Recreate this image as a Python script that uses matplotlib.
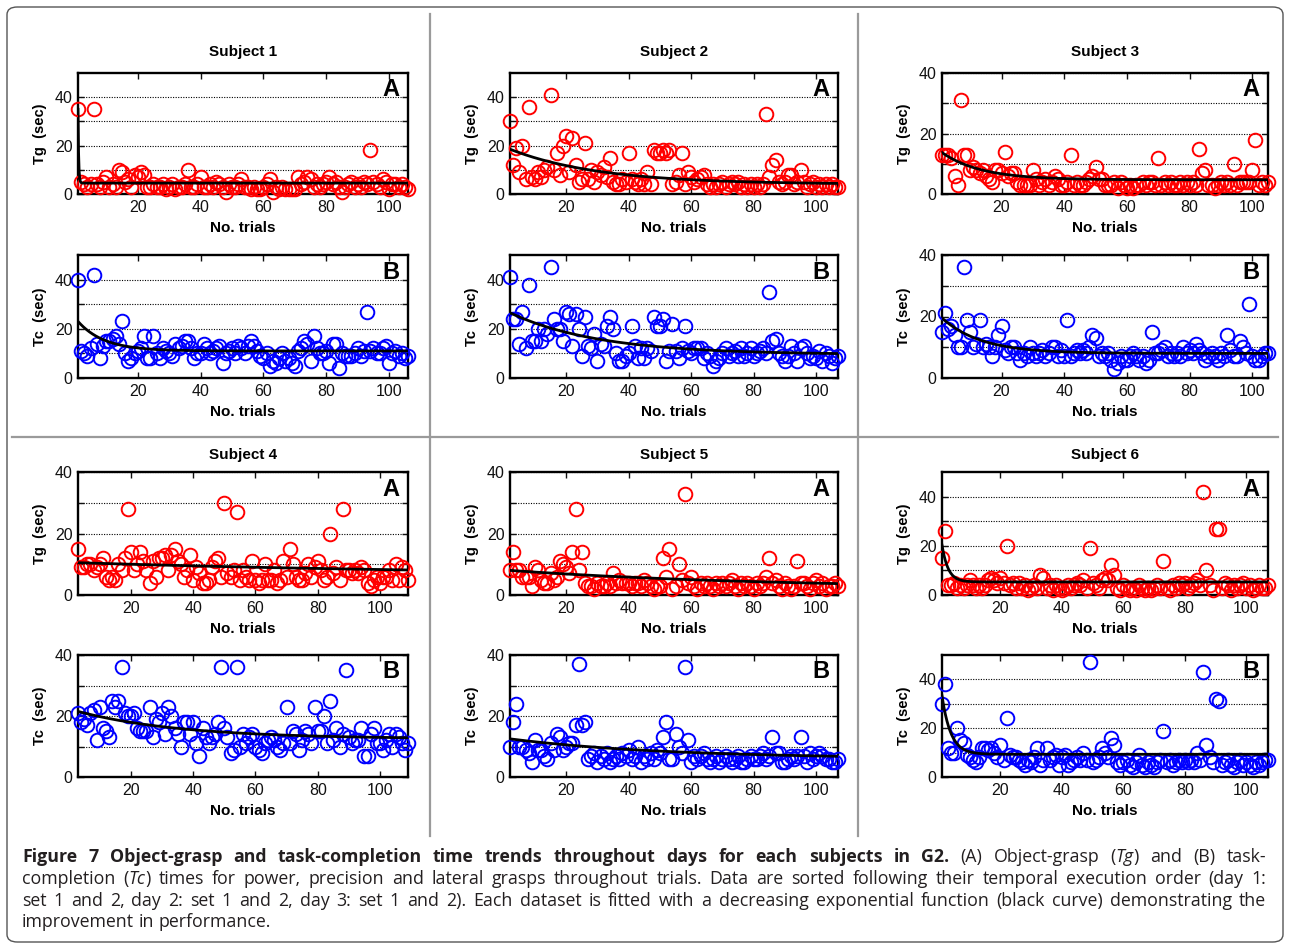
import numpy as np
import matplotlib
matplotlib.use('Agg')
import matplotlib.pyplot as plt
from matplotlib.lines import Line2D
from matplotlib.patches import FancyBboxPatch

W, H = 1290, 949

# first trial number of each subject (trials are consecutive)
trial_start = [1, 2, 1, 3, 2, 1]

# object-grasp times Tg (sec), one list per subject
tg_s1 = [35, 5, 4, 3, 4, 35, 4, 3, 5, 7,
         3, 4, 3, 10, 9, 5, 6, 3, 8, 7,
         9, 8, 3, 3, 4, 3, 3, 4, 2, 3,
         4, 2, 3, 3, 4, 10, 3, 3, 4, 7,
         3, 3, 4, 3, 5, 4, 3, 1, 4, 3,
         3, 4, 6, 3, 3, 2, 3, 2, 2, 3,
         4, 6, 1, 3, 2, 3, 2, 2, 2, 2,
         7, 4, 5, 7, 6, 3, 4, 3, 4, 5,
         7, 4, 5, 3, 1, 3, 4, 5, 3, 4,
         3, 5, 4, 18, 5, 4, 3, 6, 5, 2,
         4, 4, 3, 4, 3, 2]
tg_s2 = [30, 12, 19, 9, 20, 6, 36, 7, 6, 9,
         7, 10, 11, 41, 10, 17, 8, 20, 24, 9,
         23, 12, 5, 6, 21, 6, 10, 5, 9, 8,
         11, 7, 15, 5, 4, 4, 6, 5, 17, 6,
         5, 4, 6, 4, 9, 4, 18, 17, 17, 18,
         17, 18, 4, 5, 8, 17, 4, 9, 7, 5,
         6, 7, 8, 4, 3, 4, 3, 4, 5, 3,
         4, 5, 4, 5, 3, 4, 3, 4, 3, 4,
         3, 4, 33, 7, 12, 14, 5, 4, 5, 8,
         8, 4, 5, 10, 5, 3, 4, 5, 3, 4,
         3, 4, 3, 4, 3, 3]
tg_s3 = [13, 13, 13, 12, 6, 3, 31, 13, 13, 8,
         9, 8, 7, 8, 6, 5, 4, 8, 8, 7,
         14, 6, 7, 7, 4, 3, 3, 3, 3, 8,
         5, 3, 4, 5, 3, 4, 6, 5, 3, 3,
         4, 13, 3, 4, 3, 3, 4, 5, 6, 9,
         5, 5, 3, 3, 3, 4, 2, 4, 3, 2,
         3, 2, 3, 3, 4, 3, 4, 4, 3, 12,
         3, 4, 3, 4, 3, 3, 4, 3, 4, 3,
         4, 3, 15, 7, 8, 3, 3, 2, 3, 4,
         3, 4, 3, 10, 3, 4, 4, 4, 4, 8,
         18, 3, 4, 3, 4]
tg_s4 = [15, 9, 9, 10, 10, 8, 9, 10, 12, 6,
         5, 6, 5, 10, 8, 12, 28, 14, 8, 10,
         14, 11, 8, 4, 11, 6, 12, 12, 13, 8,
         13, 15, 11, 10, 6, 8, 13, 5, 9, 7,
         4, 4, 5, 9, 11, 12, 6, 30, 7, 6,
         8, 27, 5, 8, 6, 5, 11, 5, 4, 5,
         10, 5, 5, 8, 4, 5, 11, 6, 15, 10,
         6, 5, 5, 7, 10, 6, 9, 11, 8, 5,
         6, 20, 7, 9, 5, 28, 8, 8, 7, 8,
         7, 9, 8, 4, 3, 5, 6, 4, 6, 6,
         8, 5, 10, 5, 9, 8, 5]
tg_s5 = [8, 14, 8, 8, 6, 6, 6, 3, 9, 8,
         5, 4, 4, 7, 5, 6, 11, 10, 9, 7,
         14, 28, 8, 14, 4, 3, 3, 2, 4, 3,
         3, 4, 3, 7, 4, 5, 4, 4, 4, 3,
         4, 4, 3, 5, 4, 3, 2, 3, 3, 12,
         6, 15, 2, 3, 10, 5, 33, 4, 6, 3,
         2, 4, 3, 4, 3, 2, 4, 3, 4, 3,
         4, 5, 3, 2, 4, 3, 4, 3, 2, 4,
         3, 4, 6, 12, 4, 5, 3, 2, 4, 3,
         2, 3, 11, 4, 4, 3, 2, 4, 5, 3,
         4, 2, 3, 3, 4, 3]
tg_s6 = [15, 26, 4, 4, 5, 3, 4, 3, 4, 6,
         4, 3, 4, 3, 4, 6, 7, 6, 5, 7,
         5, 20, 4, 5, 3, 5, 3, 4, 2, 3,
         4, 3, 8, 7, 3, 4, 2, 4, 3, 2,
         3, 4, 3, 4, 5, 4, 6, 3, 19, 5,
         4, 3, 6, 7, 6, 12, 8, 3, 2, 4,
         3, 2, 3, 2, 4, 3, 2, 3, 2, 3,
         4, 3, 14, 3, 2, 4, 3, 5, 4, 5,
         3, 4, 5, 6, 4, 42, 10, 4, 2, 27,
         27, 3, 5, 4, 2, 4, 3, 4, 5, 3,
         4, 2, 3, 4, 3, 3, 4]

# task-completion times Tc (sec)
tc_s1 = [40, 11, 10, 9, 12, 42, 14, 8, 13, 15,
         15, 16, 17, 14, 23, 10, 7, 8, 10, 11,
         12, 17, 8, 8, 17, 10, 8, 12, 11, 10,
         9, 14, 12, 13, 15, 15, 12, 8, 10, 10,
         14, 12, 10, 11, 12, 13, 6, 10, 11, 12,
         10, 13, 12, 10, 13, 15, 13, 11, 9, 8,
         10, 5, 7, 6, 8, 10, 7, 8, 6, 5,
         11, 12, 15, 14, 7, 17, 12, 10, 10, 11,
         6, 14, 14, 4, 10, 9, 9, 9, 10, 12,
         9, 11, 27, 11, 12, 10, 10, 12, 13, 6,
         10, 11, 9, 10, 8, 9]
tc_s2 = [41, 24, 24, 14, 27, 12, 38, 15, 15, 20,
         15, 20, 18, 45, 24, 20, 20, 15, 27, 26,
         13, 26, 20, 9, 25, 13, 12, 18, 7, 14,
         13, 21, 25, 20, 10, 7, 7, 9, 10, 21,
         13, 8, 12, 8, 12, 11, 25, 21, 21, 24,
         7, 11, 22, 11, 8, 12, 21, 11, 10, 12,
         12, 12, 8, 10, 9, 5, 7, 8, 10, 12,
         9, 10, 11, 9, 12, 9, 10, 12, 9, 10,
         11, 12, 10, 35, 15, 16, 10, 9, 7, 9,
         13, 10, 7, 12, 13, 10, 8, 9, 8, 11,
         7, 10, 9, 6, 8, 9]
tc_s3 = [15, 21, 16, 17, 14, 10, 10, 36, 19, 15,
         10, 11, 19, 10, 11, 10, 7, 10, 14, 17,
         9, 8, 10, 10, 8, 6, 8, 7, 10, 8,
         7, 8, 9, 7, 8, 10, 10, 7, 9, 7,
         19, 7, 8, 9, 8, 9, 8, 10, 14, 13,
         7, 8, 7, 8, 6, 3, 5, 7, 6, 6,
         7, 8, 7, 6, 7, 5, 6, 15, 8, 8,
         9, 10, 7, 8, 7, 8, 7, 10, 8, 9,
         8, 11, 9, 8, 6, 7, 8, 7, 6, 8,
         7, 14, 9, 7, 7, 12, 10, 8, 24, 7,
         6, 6, 7, 8, 8]
tc_s4 = [21, 18, 19, 17, 21, 22, 12, 23, 16, 15,
         13, 25, 23, 25, 36, 21, 20, 20, 21, 16,
         15, 15, 15, 23, 13, 19, 18, 21, 14, 23,
         20, 16, 14, 10, 18, 18, 14, 18, 11, 7,
         16, 13, 11, 13, 14, 18, 36, 16, 13, 8,
         9, 36, 10, 14, 11, 13, 14, 10, 9, 8,
         11, 12, 13, 12, 10, 9, 11, 23, 11, 15,
         14, 9, 12, 15, 14, 11, 23, 15, 15, 20,
         11, 25, 12, 16, 10, 14, 35, 13, 11, 12,
         12, 16, 7, 7, 14, 16, 11, 11, 9, 12,
         14, 10, 14, 13, 11, 9, 11]
tc_s5 = [10, 18, 24, 10, 10, 9, 8, 5, 12, 9,
         9, 7, 6, 11, 9, 14, 13, 9, 10, 11,
         11, 17, 37, 17, 18, 6, 7, 8, 5, 7,
         6, 8, 5, 6, 7, 6, 8, 7, 9, 6,
         7, 10, 5, 7, 6, 8, 6, 9, 8, 13,
         18, 6, 6, 14, 10, 8, 36, 12, 5, 7,
         6, 7, 8, 6, 5, 6, 7, 5, 6, 7,
         6, 5, 6, 7, 5, 5, 6, 7, 6, 6,
         7, 8, 6, 7, 13, 8, 8, 5, 5, 6,
         7, 6, 7, 13, 7, 5, 8, 6, 7, 8,
         7, 6, 6, 5, 5, 6]
tc_s6 = [30, 38, 12, 10, 10, 20, 15, 14, 9, 8,
         7, 6, 8, 12, 12, 11, 12, 10, 8, 13,
         7, 24, 9, 8, 8, 7, 6, 5, 7, 6,
         8, 12, 5, 7, 12, 7, 8, 9, 5, 8,
         9, 5, 6, 7, 8, 7, 10, 7, 47, 6,
         7, 8, 12, 10, 8, 16, 13, 6, 5, 6,
         7, 5, 4, 6, 9, 5, 4, 6, 5, 4,
         6, 7, 19, 6, 7, 5, 6, 7, 6, 7,
         6, 7, 6, 10, 7, 43, 13, 8, 6, 32,
         31, 5, 6, 7, 5, 4, 6, 7, 5, 6,
         5, 4, 6, 5, 6, 7, 7]

# decreasing exponential fits: (plateau, amplitude, rate)
tg_fit = [(4.5, 30.5, 5.0), (4.0, 14.5, 0.035), (4.7, 9.0, 0.08),
          (6.0, 4.5, 0.007), (2.0, 6.0, 0.012), (5.3, 15.0, 0.5)]
tc_fit = [(11.0, 12.0, 0.12), (9.5, 17.0, 0.035), (8.0, 11.5, 0.08),
          (12.5, 9.0, 0.03), (6.0, 6.5, 0.02), (9.3, 24.0, 0.35)]

tg_ymax = [50, 50, 40, 40, 40, 50]
tc_ymax = [50, 50, 40, 40, 40, 50]

tg_all = [tg_s1, tg_s2, tg_s3, tg_s4, tg_s5, tg_s6]
tc_all = [tc_s1, tc_s2, tc_s3, tc_s4, tc_s5, tc_s6]
subjects = ['Subject %d' % (i + 1) for i in range(6)]

axis_font = 'Liberation Sans'
plt.rcParams['font.family'] = [axis_font, 'DejaVu Sans']

fig = plt.figure(figsize=(W / 100, H / 100), dpi=100)


def add_axes_px(left, top, right, bottom):
    return fig.add_axes([left / W, 1 - bottom / H, (right - left) / W, (bottom - top) / H])


def draw_panel(ax, y, start, color, fit, ymax, letter, ylabel):
    x = np.arange(start, start + len(y))
    xs = np.linspace(x[0], x[-1], 600)
    c, a, b = fit
    ax.plot(x, y, 'o', ls='none', mfc='none', mec=color, ms=9.8, mew=1.4,
            clip_on=False, zorder=3)
    ax.plot(xs, c + a * np.exp(-b * (xs - x[0])), color='black', lw=2.0, zorder=4)
    ax.set_xlim(x[0], x[-1])
    ax.set_ylim(0, ymax)
    ax.set_xticks([20, 40, 60, 80, 100])
    ax.set_yticks([0, 10, 20, 30, 40])
    ax.set_yticklabels(['0', '', '20', '', '40'])
    ax.yaxis.grid(True, linestyle=(0, (1, 1.3)), color='black', lw=0.8)
    ax.set_axisbelow(True)
    ax.tick_params(direction='in', top=True, right=True, length=4, width=1,
                   labelsize=11.5, pad=4, colors='#111111')
    for s in ax.spines.values():
        s.set_linewidth(1.7)
    ax.text(0.975, 0.955, letter, transform=ax.transAxes, ha='right', va='top',
            fontsize=17, fontweight='bold')
    ax.set_xlabel('No. trials', fontsize=11, fontweight='bold')
    ax.xaxis.set_label_coords(0.5, -0.22)
    ax.set_ylabel(ylabel, fontsize=10.5, fontweight='bold')
    ax.yaxis.set_label_coords(-0.095, 0.5)


col_x = [(78, 408), (510, 838), (942, 1268)]
row_a = [(73, 194), (472, 595)]
row_b = [(255, 378), (655, 777)]
title_y = [52, 455]

for i in range(6):
    col, row = i % 3, i // 3
    l, r = col_x[col]
    axa = add_axes_px(l, row_a[row][0], r, row_a[row][1])
    draw_panel(axa, tg_all[i], trial_start[i], 'red', tg_fit[i], tg_ymax[i], 'A', 'Tg  (sec)')
    axb = add_axes_px(l, row_b[row][0], r, row_b[row][1])
    draw_panel(axb, tc_all[i], trial_start[i], 'blue', tc_fit[i], tc_ymax[i], 'B', 'Tc  (sec)')
    fig.text((l + r) / 2 / W, 1 - title_y[row] / H, subjects[i], ha='center', va='center',
             fontsize=11, fontweight='bold')

# separators between subjects
sep = '#9a9a9a'
for xv in (430, 858):
    fig.add_artist(Line2D([xv / W, xv / W], [1 - 14 / H, 1 - 836 / H], color=sep, lw=1.6))
fig.add_artist(Line2D([12 / W, 1278 / W], [1 - 437 / H, 1 - 437 / H], color=sep, lw=1.6))

# outer frame
fig.add_artist(FancyBboxPatch((7 / W, 1 - 942 / H), 1276 / W, 935 / H,
                              boxstyle='round,pad=0,rounding_size=0.008',
                              transform=fig.transFigure, fill=False,
                              ec='#555555', lw=1.0))

# caption, justified word by word
cap_font = ['Open Sans', 'DejaVu Sans']
cap_size = 12.8
cap_color = '#231f20'
caption = [
    [('Figure 7 Object-grasp and task-completion time trends throughout days for each subjects in G2.', 'bold'),
     ('(A) Object-grasp (_Tg_) and (B) task-', 'normal')],
    [('completion (_Tc_) times for power, precision and lateral grasps throughout trials. '
      'Data are sorted following their temporal execution order (day 1:', 'normal')],
    [('set 1 and 2, day 2: set 1 and 2, day 3: set 1 and 2). Each dataset is fitted with a '
      'decreasing exponential function (black curve) demonstrating the', 'normal')],
    [('improvement in performance.', 'normal')],
]
renderer = fig.canvas.get_renderer()


def cap_text(s, weight, style):
    return fig.text(0, 0, s, fontsize=cap_size, family=cap_font, fontweight=weight,
                    fontstyle=style, color=cap_color, ha='left', va='baseline')


def width_of(t):
    return t.get_window_extent(renderer).width


probe_a = cap_text('aa', 'normal', 'normal')
probe_b = cap_text('a a', 'normal', 'normal')
space_w = width_of(probe_b) - width_of(probe_a)
probe_a.remove()
probe_b.remove()

cap_left, cap_right = 22, 1266
for li, line in enumerate(caption):
    words = []
    for segment, weight in line:
        for word in segment.split(' '):
            parts = []
            for k, part in enumerate(word.split('_')):
                if part:
                    t = cap_text(part, weight, 'italic' if k % 2 else 'normal')
                    parts.append((t, width_of(t)))
            words.append(parts)
    total = sum(w for parts in words for _, w in parts)
    if li < len(caption) - 1:
        gap = max((cap_right - cap_left - total) / (len(words) - 1), 0.6 * space_w)
    else:
        gap = space_w
    baseline = 862 + 21.8 * li
    x = cap_left
    for parts in words:
        for t, w in parts:
            t.set_position((x / W, 1 - baseline / H))
            x += w
        x += gap

fig.savefig('out.png', dpi=100, facecolor='white')
